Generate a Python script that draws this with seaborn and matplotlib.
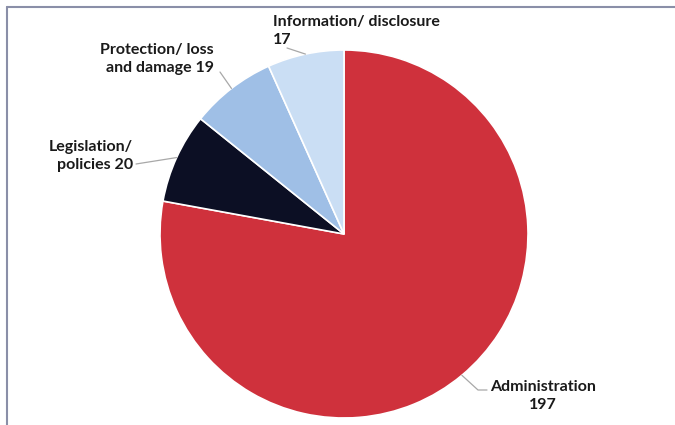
import numpy as np
import matplotlib.pyplot as plt
import seaborn as sns

sns.set_style("white")
plt.rcParams["font.family"] = ["Lato", "DejaVu Sans"]

# Data
categories = ["Administration", "Legislation/\npolicies", "Protection/ loss\nand damage", "Information/ disclosure\n"]
values = [197, 20, 19, 17]
colors = ["#cf313c", "#0c0f24", "#9fbfe6", "#cadef4"]

fig = plt.figure(figsize=(6.75, 4.25), dpi=100)
# pie centre ~ (344, 234) px, radius ~184 px
R = 184
ax = fig.add_axes([(344 - R) / 675, (425 - 234 - R) / 425, 2 * R / 675, 2 * R / 425])

wedges, _ = ax.pie(values, colors=colors, startangle=90, counterclock=False,
                   wedgeprops=dict(edgecolor="white", linewidth=1.2))
ax.set_xlim(-1, 1)
ax.set_ylim(-1, 1)
ax.set_aspect("equal")
ax.axis("off")


def px(x, y):
    # pixel position -> data coords of the pie axes
    return (x - 344) / R, (234 - y) / R


# label positions (pixels): text anchor, alignment, leader elbow
layout = [
    dict(text=(543, 396), ha="center", elbow=[(478, 390), (487, 390)]),
    dict(text=(133, 156), ha="right", elbow=[(136, 164)]),
    dict(text=(214, 59), ha="right", elbow=[(220, 72)]),
    dict(text=(273, 31), ha="left", elbow=[(287, 48)]),
]

line_col = "#a8a8a8"
for w, cat, val, lay in zip(wedges, categories, values, layout):
    mid = np.deg2rad((w.theta1 + w.theta2) / 2)
    edge = (np.cos(mid), np.sin(mid))
    pts = [edge] + [px(*p) for p in lay["elbow"]]
    xs, ys = zip(*pts)
    ax.plot(xs, ys, color=line_col, lw=0.9, clip_on=False)
    if cat == "Administration":
        label = f"{cat}\n{val}"
    elif cat.endswith("\n"):
        label = f"{cat}{val}"
    else:
        label = f"{cat} {val}"
    tx, ty = px(*lay["text"])
    ax.text(tx, ty, label, ha=lay["ha"], va="center", fontsize=11.5,
            fontweight="bold", color="#1a1a1a", linespacing=1.3,
            clip_on=False)

# frame lines of the original panel
fig.add_artist(plt.Line2D([7 / 675, 1], [1 - 7 / 425, 1 - 7 / 425],
                          color="#8a8fa8", lw=1.5, transform=fig.transFigure))
fig.add_artist(plt.Line2D([7 / 675, 7 / 675], [0, 1 - 7 / 425],
                          color="#8a8fa8", lw=1.5, transform=fig.transFigure))

plt.savefig("out.png", dpi=100)
